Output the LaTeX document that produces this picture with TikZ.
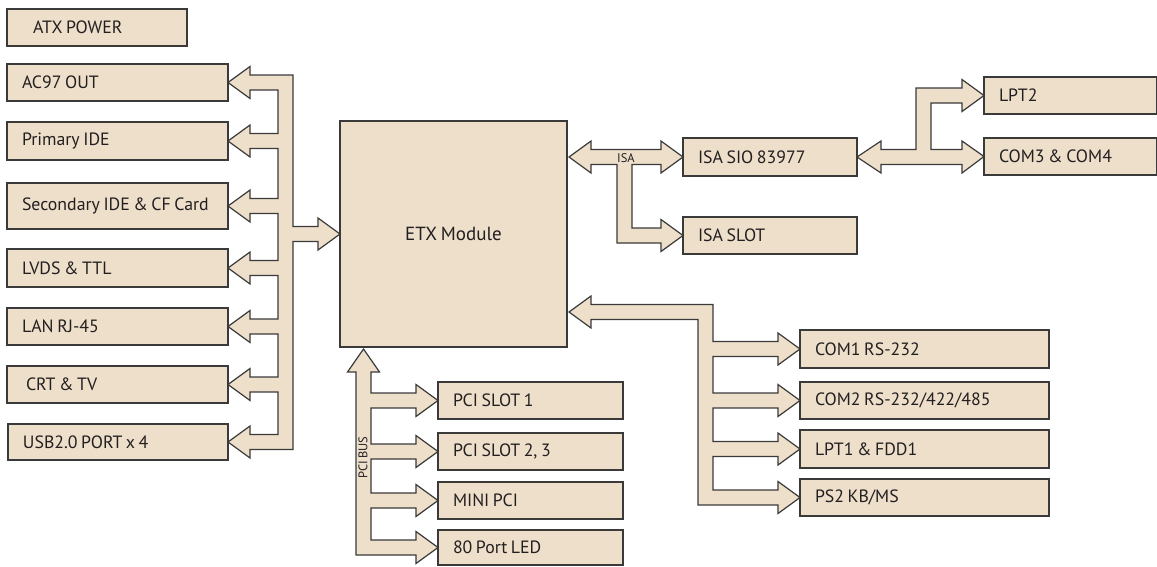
\documentclass[tikz,border=0pt]{standalone}
\usepackage{fontspec}
\setmainfont[WordSpace=0.75]{PT Sans}
\usetikzlibrary{calc}
\definecolor{boxfill}{HTML}{EDDFCA}
\definecolor{edge}{HTML}{3A3A3A}
\definecolor{txt}{HTML}{231F20}
\newcommand\lbox[2]{\makebox[#1][l]{#2}}
\begin{document}
\begin{tikzpicture}[x=1pt,y=-1pt,
  box/.style={draw=edge, fill=boxfill, line width=1.2pt, anchor=north west, outer sep=0pt,
    inner xsep=15pt, inner ysep=0pt, font=\fontsize{17.8}{19}\selectfont, text=txt},
  bus/.style={draw=edge, fill=boxfill, line width=1.2pt, line join=miter},
  small/.style={font=\fontsize{12.5}{13}\selectfont, text=txt, inner sep=0pt}]
\useasboundingbox (0,0) rectangle (1157,566);

% left column
\node[box, minimum height=37pt] (atx) at (7,9) {\lbox{150pt}{\hspace*{11pt}ATX POWER}};
\node[box, minimum height=37pt] (ac97) at (7,64) {\lbox{191pt}{AC97 OUT}};
\node[box, minimum height=38pt] (pri) at (7,122) {\lbox{191pt}{Primary IDE}};
\node[box, minimum height=46pt] (sec) at (7,183) {\lbox{191pt}{Secondary IDE \& CF Card}};
\node[box, minimum height=38pt] (lvds) at (7,249) {\lbox{191pt}{LVDS \& TTL}};
\node[box, minimum height=37pt] (lan) at (7,308) {\lbox{191pt}{LAN RJ-45}};
\node[box, minimum height=37pt] (crt) at (7,366) {\lbox{191pt}{\hspace*{4pt}CRT \& TV}};
\node[box, minimum height=36pt] (usb) at (8,424) {\lbox{190pt}{USB2.0 PORT x 4}};

% module
\node[box, inner xsep=0pt, minimum width=227pt, minimum height=226pt, font=\fontsize{19}{21}\selectfont] (etx) at (340,121) {ETX Module};

% ISA side
\node[box, minimum height=38pt] (isasio) at (683,138) {\lbox{144pt}{ISA SIO 83977}};
\node[box, minimum height=37pt] (isaslot) at (683,217) {\lbox{144pt}{ISA SLOT}};
\node[box, minimum height=37pt] (lpt2) at (984,77) {\lbox{143pt}{LPT2}};
\node[box, minimum height=37pt] (com34) at (984,138) {\lbox{143pt}{COM3 \& COM4}};

% COM side
\node[box, minimum height=38pt] (com1) at (800,330) {\lbox{219pt}{COM1 RS-232}};
\node[box, minimum height=37pt] (com2) at (800,382) {\lbox{219pt}{COM2 RS-232/422/485}};
\node[box, minimum height=38pt] (lpt1) at (800,430) {\lbox{219pt}{LPT1 \& FDD1}};
\node[box, minimum height=37pt] (ps2) at (800,479) {\lbox{219pt}{PS2 KB/MS}};

% PCI side
\node[box, minimum height=37pt] (pci1) at (438,382) {\lbox{155pt}{PCI SLOT 1}};
\node[box, minimum height=37pt] (pci23) at (438,433) {\lbox{155pt}{PCI SLOT 2, 3}};
\node[box, minimum height=37pt] (mini) at (438,482) {\lbox{155pt}{MINI PCI}};
\node[box, minimum height=35pt] (led) at (438,530) {\lbox{155pt}{80 Port LED}};

% left bus
\draw[bus] (293,75) -- (293,226.5) -- (318,226.5) -- (318,218) -- (etx.west) -- (318,250) -- (318,241.5)
  -- (293,241.5) -- (293,449.5) -- (250,449.5) -- (250,458) -- (usb.east) -- (250,426) -- (250,434.5)
  -- (278,434.5) -- (278,392) -- (250,392) -- (250,400.5) -- (crt.east) -- (250,368.5) -- (250,377)
  -- (278,377) -- (278,334) -- (250,334) -- (250,342.5) -- (lan.east) -- (250,310.5) -- (250,319)
  -- (278,319) -- (278,275.5) -- (250,275.5) -- (250,284) -- (lvds.east) -- (250,252) -- (250,260.5)
  -- (278,260.5) -- (278,213.5) -- (250,213.5) -- (250,222) -- (sec.east) -- (250,190) -- (250,198.5)
  -- (278,198.5) -- (278,148.5) -- (250,148.5) -- (250,157) -- (pri.east) -- (250,125) -- (250,133.5)
  -- (278,133.5) -- (278,90) -- (250,90) -- (250,98.5) -- (ac97.east) -- (250,66.5) -- (250,75) -- cycle;

% ISA bus
\coordinate (isatip) at (569,157);
\draw[bus] (isatip) -- (591,141) -- (591,149.5) -- (661,149.5) -- (661,141) -- (isasio.west) -- (661,173)
  -- (661,164.5) -- (632,164.5) -- (632,228) -- (661,228) -- (661,219.5) -- (isaslot.west) -- (661,251.5)
  -- (661,243) -- (617,243) -- (617,164.5) -- (591,164.5) -- (591,173) -- cycle;
\node[small] (isalbl) at (626,158) {ISA};

% SIO bus
\draw[bus] (isasio.east) -- (881,141) -- (881,149.5) -- (916,149.5) -- (916,88) -- (962,88) -- (962,79.5)
  -- (lpt2.west) -- (962,111.5) -- (962,103) -- (931,103) -- (931,149.5) -- (962,149.5) -- (962,141)
  -- (com34.west) -- (962,173) -- (962,164.5) -- (881,164.5) -- (881,173) -- cycle;

% COM bus
\coordinate (comtip) at (569,312);
\draw[bus] (comtip) -- (591,296) -- (591,304.5) -- (713,304.5) -- (713,341.5) -- (778,341.5) -- (778,333)
  -- (com1.west) -- (778,365) -- (778,356.5) -- (713,356.5) -- (713,393) -- (778,393) -- (778,384.5)
  -- (com2.west) -- (778,416.5) -- (778,408) -- (713,408) -- (713,441.5) -- (778,441.5) -- (778,433)
  -- (lpt1.west) -- (778,465) -- (778,456.5) -- (713,456.5) -- (713,490) -- (778,490) -- (778,481.5)
  -- (ps2.west) -- (778,513.5) -- (778,505) -- (698,505) -- (698,319.5) -- (591,319.5) -- (591,328) -- cycle;

% PCI bus
\coordinate (pcitip) at (363.5,349);
\draw[bus] (pcitip) -- (379.5,372) -- (371,372) -- (371,393) -- (416,393) -- (416,384.5) -- (pci1.west)
  -- (416,416.5) -- (416,408) -- (371,408) -- (371,444) -- (416,444) -- (416,435.5) -- (pci23.west)
  -- (416,467.5) -- (416,459) -- (371,459) -- (371,493) -- (416,493) -- (416,484.5) -- (mini.west)
  -- (416,516.5) -- (416,508) -- (371,508) -- (371,540) -- (416,540) -- (416,531.5) -- (led.west)
  -- (416,563.5) -- (416,555) -- (356,555) -- (356,372) -- (347.5,372) -- cycle;
\node[small, rotate=90] (pcilbl) at (363,457.5) {PCI BUS};
\end{tikzpicture}
\end{document}
